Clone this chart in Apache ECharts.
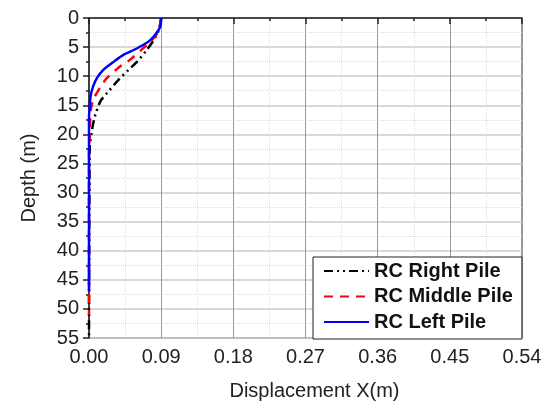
<!DOCTYPE html>
<html>
<head>
<meta charset="utf-8">
<script src="https://cdn.jsdelivr.net/npm/echarts@6/dist/echarts.min.js"></script>
<style>
html,body{margin:0;padding:0;background:#fff;}
#chart{width:552px;height:406px;}
</style>
</head>
<body>
<div id="chart"></div>
<script>
var xTicks = [0, 0.09, 0.18, 0.27, 0.36, 0.45, 0.54];
var yTicks = [0, 5, 10, 15, 20, 25, 30, 35, 40, 45, 50, 55];

var rightDepth = [0, 1.8, 3.5, 5.5, 7.5, 8.9, 10.6, 12.9, 14.3, 16.6, 18.3, 20, 22, 55];
var rightDisp  = [0.09, 0.0876, 0.082, 0.072, 0.060, 0.0494, 0.037, 0.0225, 0.0143, 0.008, 0.005, 0.003, 0.001, 0];

var middleDepth = [0, 2.3, 3.8, 4.9, 7.2, 8.3, 10.3, 11.5, 13.8, 15.2, 17, 20, 23, 51];
var middleDisp  = [0.09, 0.0865, 0.0785, 0.070, 0.051, 0.039, 0.0225, 0.016, 0.006, 0.003, 0.0015, 0.001, 0, 0];

var leftDepth = [0, 1.5, 2.6, 3.8, 4.6, 5.5, 6.3, 7.5, 8.9, 10.3, 11.8, 13.5, 15.2, 17, 47];
var leftDisp  = [0.09, 0.0889, 0.084, 0.0765, 0.068, 0.0557, 0.0433, 0.031, 0.0178, 0.010, 0.005, 0.0019, 0.001, 0, 0];

var seriesNames = ['RC Right Pile', 'RC Middle Pile', 'RC Left Pile'];

function pairs(xs, ys) { return xs.map(function (x, i) { return [x, ys[i]]; }); }

var FONT = 'Arial, "Liberation Sans", sans-serif';
var chart = echarts.init(document.getElementById('chart'));
chart.setOption({
  animation: false,
  backgroundColor: '#fff',
  grid: { left: 89, right: 30, top: 18, bottom: 67, show: true, borderColor: '#333', borderWidth: 1, backgroundColor: 'transparent' },
  xAxis: {
    type: 'value', min: xTicks[0], max: xTicks[xTicks.length - 1], interval: 0.09,
    name: 'Displacement X(m)', nameLocation: 'middle', nameGap: 43,
    nameTextStyle: { fontSize: 20, color: '#222', fontFamily: FONT, padding: [0, 0, 0, 18] },
    axisLine: { show: true, lineStyle: { color: '#222', width: 1.5 } },
    axisTick: { show: true, length: 6, lineStyle: { color: '#222', width: 1.5 } },
    minorTick: { show: true, splitNumber: 2, length: 3, lineStyle: { color: '#222', width: 1.5 } },
    splitLine: { show: true, lineStyle: { color: '#999', width: 1 } },
    minorSplitLine: { show: true, lineStyle: { color: '#ddd', width: 1, type: 'dotted' } },
    axisLabel: { fontSize: 20, color: '#222', fontFamily: FONT, margin: 9, formatter: function (v) { return v.toFixed(2); } }
  },
  yAxis: {
    type: 'value', inverse: true, min: yTicks[0], max: yTicks[yTicks.length - 1], interval: 5,
    name: 'Depth (m)', nameLocation: 'middle', nameGap: 50, nameRotate: 90,
    nameTextStyle: { fontSize: 20, color: '#222', fontFamily: FONT },
    axisLine: { show: true, lineStyle: { color: '#222', width: 1.5 } },
    axisTick: { show: true, length: 6, lineStyle: { color: '#222', width: 1.5 } },
    minorTick: { show: true, splitNumber: 2, length: 3, lineStyle: { color: '#222', width: 1.5 } },
    splitLine: { show: true, lineStyle: { color: '#ccc', width: 1.5 } },
    minorSplitLine: { show: true, lineStyle: { color: '#ddd', width: 1, type: 'dotted' } },
    axisLabel: { fontSize: 20, color: '#222', fontFamily: FONT, margin: 10 }
  },
  legend: {
    orient: 'vertical', left: 313, top: 257,
    backgroundColor: '#fff', borderColor: '#222', borderWidth: 1,
    padding: [3, 9, 6, 10], itemGap: 3.5, itemWidth: 45, itemHeight: 14,
    itemStyle: { opacity: 0 },
    textStyle: { fontSize: 20, lineHeight: 22, fontWeight: 'bold', color: '#111', fontFamily: FONT },
    data: seriesNames
  },
  series: [
    { name: seriesNames[0], type: 'line', symbol: 'none', smooth: 0.3, data: pairs(rightDisp, rightDepth),
      lineStyle: { color: '#000', width: 2.5, type: [9, 4, 2, 4, 2, 4] }, itemStyle: { color: '#000' } },
    { name: seriesNames[1], type: 'line', symbol: 'none', smooth: 0.3, data: pairs(middleDisp, middleDepth),
      lineStyle: { color: '#ff0000', width: 2.5, type: [9, 7] }, itemStyle: { color: '#ff0000' } },
    { name: seriesNames[2], type: 'line', symbol: 'none', smooth: 0.3, data: pairs(leftDisp, leftDepth),
      lineStyle: { color: '#0000ff', width: 2.5 }, itemStyle: { color: '#0000ff' } }
  ]
});
</script>
</body>
</html>
